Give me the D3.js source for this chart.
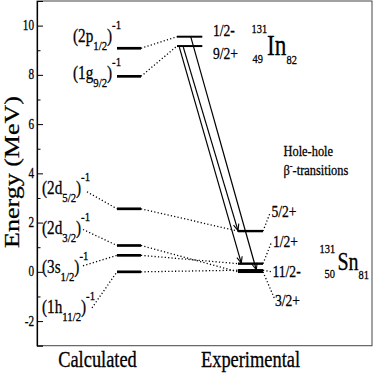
<!DOCTYPE html>
<html><head><meta charset="utf-8">
<script src="https://cdn.jsdelivr.net/npm/d3@7"></script>
<style>html,body{margin:0;padding:0;background:#fff;}svg{display:block;}
text{font-family:"Liberation Serif","Times New Roman",Times,serif;stroke:#000;stroke-width:0.3px;}</style>
</head><body>
<script>
// ---- data ----
const yTicks = [-2, 0, 2, 4, 6, 8, 10];
const yMinorTicks = [-1, 1, 3, 5, 7, 9];
const calcOrbital = ["2p", "1g", "2d", "2d", "3s", "1h"];
const calcJ = ["1/2", "9/2", "5/2", "3/2", "1/2", "11/2"];
const calcEnergy = [9.08, 7.94, 2.56, 1.07, 0.67, 0.0];
const calcTarget = ["1/2-", "9/2+", "5/2+", "3/2+", "1/2+", "11/2-"];
const inSpins = ["1/2-", "9/2+"];
const inEnergy = [9.55, 9.17];
const snSpins = ["5/2+", "1/2+", "11/2-", "3/2+"];
const snEnergy = [1.655, 0.332, 0.065, 0.0];
const betaFrom = ["9/2+", "9/2+", "1/2-"];
const betaTo = ["1/2+", "5/2+", "11/2-"];
const colLabels = ["Calculated", "Experimental"];

// ---- layout ----
const W = 374, H = 374;
const plot = {l: 37, r: 372, t: 1, b: 345.7};
const FONT = '"Liberation Serif","Times New Roman",Times,serif';
const SX = 0.8;

const svg = d3.select("body").append("svg").attr("width", W).attr("height", H);
const y = d3.scaleLinear().domain([-3, 11]).range([plot.b, plot.t]);
const x = d3.scaleLinear().domain([0, 335]).range([plot.l, plot.r]);

// column extents (in x-domain units)
const calcX = [80, 104], inX = [140, 165.3], snX = [201, 226];

// frame
svg.append("rect").attr("x", plot.l).attr("y", plot.t)
  .attr("width", plot.r - plot.l).attr("height", plot.b - plot.t)
  .attr("fill", "none").attr("stroke", "#444").attr("stroke-width", 1);

// y axis (ticks inside)
const yAxis = d3.axisRight(y).tickValues(yTicks).tickSize(6).tickFormat("");
const ag = svg.append("g").attr("transform", `translate(${plot.l},0)`).call(yAxis);
ag.select(".domain").attr("stroke", "#000").attr("stroke-width", 1.2);
ag.selectAll(".tick line").attr("stroke", "#000").attr("stroke-width", 1);
const mg = svg.append("g").attr("transform", `translate(${plot.l},0)`)
  .call(d3.axisRight(y).tickValues(yMinorTicks).tickSize(3.5).tickFormat(""));
mg.select(".domain").remove();
mg.selectAll(".tick line").attr("stroke", "#000");

function stext(parent, px, py, str, size, anchor) {
  return parent.append("text")
    .attr("transform", `translate(${px},${py}) scale(${SX},1)`)
    .attr("font-family", FONT).attr("font-size", size)
    .attr("text-anchor", anchor || "start").attr("fill", "#000").text(str);
}
// rich text: parts [text, kind] kind: n|sub|sup
function rich(parent, px, py, parts, size, small, subOff, supOff) {
  const t = parent.append("text")
    .attr("transform", `translate(${px},${py}) scale(${SX},1)`)
    .attr("font-family", FONT).attr("fill", "#000");
  let cur = 0;
  parts.forEach(([s, k]) => {
    const target = k === "sub" ? subOff : k === "sup" ? supOff : 0;
    t.append("tspan").attr("dy", target - cur)
      .attr("font-size", k === "n" ? size : small).text(s);
    cur = target;
  });
  return t;
}

yTicks.forEach(v => stext(svg, 34, y(v) + 4.5, String(v), 14, "end"));

// axis title
svg.append("text")
  .attr("transform", `translate(18.5,172) scale(${SX},1) rotate(-90)`)
  .attr("font-family", FONT).attr("font-size", 26).attr("text-anchor", "middle")
  .text("Energy (MeV)");

// column labels
stext(svg, 97.5, 367, colLabels[0], 23, "middle");
stext(svg, 250.5, 367, colLabels[1], 23, "middle");

const dotted = (x1, y1, x2, y2) => svg.append("line")
  .attr("x1", x1).attr("y1", y1).attr("x2", x2).attr("y2", y2)
  .attr("stroke", "#000").attr("stroke-width", 1.3).attr("stroke-dasharray", "1.2,2.2");

const inY = s => y(inEnergy[inSpins.indexOf(s)]);
const snY = s => y(snEnergy[snSpins.indexOf(s)]);
const expLevelY = s => inSpins.includes(s) ? inY(s) : snY(s);
const expLeft = s => inSpins.includes(s) ? x(inX[0]) : x(snX[0]);

// calc -> exp dotted connectors
calcEnergy.forEach((e, i) => {
  dotted(x(calcX[1]), y(e), expLeft(calcTarget[i]), expLevelY(calcTarget[i]));
});

// calc levels
svg.append("g").selectAll("line").data(calcEnergy).join("line")
  .attr("x1", x(calcX[0])).attr("x2", x(calcX[1]))
  .attr("y1", d => y(d)).attr("y2", d => y(d))
  .attr("stroke", "#000").attr("stroke-width", 2.7);

// calc labels: anchors relative to level
const calcLabelPos = [[73, -6], [73, 3], [42, -14.5], [42, -11], [42, 17.5], [42, 41]];
const calcLeadStart = [null, null, [87, -17], [83, -16], [83, 10.5], [92, 36]];
calcEnergy.forEach((e, i) => {
  const [lx, dy] = calcLabelPos[i];
  rich(svg, lx, y(e) + dy,
    [["(" + calcOrbital[i], "n"], [calcJ[i], "sub"], [")", "n"], ["-1", "sup"]],
    19, 13.5, 8, -13);
  if (calcLeadStart[i]) {
    dotted(calcLeadStart[i][0], y(e) + calcLeadStart[i][1], x(calcX[0]), y(e));
  }
});

// In levels
svg.append("g").selectAll("line").data(inEnergy).join("line")
  .attr("x1", x(inX[0])).attr("x2", x(inX[1]))
  .attr("y1", d => y(d)).attr("y2", d => y(d))
  .attr("stroke", "#000").attr("stroke-width", 2);
const inLabelDy = [-0.5, 12.5];
inSpins.forEach((s, i) => stext(svg, 213, y(inEnergy[i]) + inLabelDy[i], s, 17));

// In nucleus label
stext(svg, 251.5, 33, "131", 13);
stext(svg, 252.5, 63, "49", 13);
stext(svg, 267, 55, "In", 29);
stext(svg, 286.5, 64, "82", 13);

// Sn levels
svg.append("g").selectAll("line").data(snEnergy).join("line")
  .attr("x1", x(snX[0])).attr("x2", x(snX[1]))
  .attr("y1", d => y(d)).attr("y2", d => y(d))
  .attr("stroke", "#000").attr("stroke-width", 2.4);
const snLabelPos = [[271.5, -14], [273, -17], [272.5, 6.5], [275, 34.5]];
const snLeadEnd = [[270, -18], [271.7, -22], [272, 1.5], [275, 28]];
snEnergy.forEach((e, i) => {
  stext(svg, snLabelPos[i][0], y(e) + snLabelPos[i][1], snSpins[i], 17);
  dotted(x(snX[1]), y(e), snLeadEnd[i][0], y(e) + snLeadEnd[i][1]);
});

// Sn nucleus label
stext(svg, 319.5, 253, "131", 13);
stext(svg, 324.5, 277.5, "50", 13);
stext(svg, 337.5, 270, "Sn", 25);
stext(svg, 358.5, 279, "81", 13);

// Hole-hole annotation
stext(svg, 283.5, 155.5, "Hole-hole", 15.5);
const bt = svg.append("text").attr("transform", `translate(283.5,175) scale(${SX},1)`)
  .attr("font-family", FONT).attr("font-size", 15.5);
bt.append("tspan").text("β");
bt.append("tspan").attr("dy", -6).attr("font-size", 10.5).text("-");
bt.append("tspan").attr("dy", 6).text("-transitions");

// beta transitions (arrows)
const betaStartDx = [2.3, 6.3, 13.7];
const betaEndDx = [3.3, 0, 18.3];
betaFrom.forEach((f, i) => {
  const x1 = x(inX[0]) + betaStartDx[i], y1 = inY(f) + (f === "9/2+" ? 1 : 0);
  const x2 = x(snX[0]) + betaEndDx[i], y2 = snY(betaTo[i]) - 0.5;
  svg.append("line").attr("x1", x1).attr("y1", y1).attr("x2", x2).attr("y2", y2)
    .attr("stroke", "#000").attr("stroke-width", 1.2);
  const ang = Math.atan2(y2 - y1, x2 - x1), L = 7, a = 0.4;
  const p1 = [x2 - L * Math.cos(ang - a), y2 - L * Math.sin(ang - a)];
  const p2 = [x2 - L * Math.cos(ang + a), y2 - L * Math.sin(ang + a)];
  svg.append("path").attr("d", `M${p1}L${x2},${y2}L${p2}`)
    .attr("fill", "none").attr("stroke", "#000").attr("stroke-width", 1.1);
});
</script>
</body></html>
